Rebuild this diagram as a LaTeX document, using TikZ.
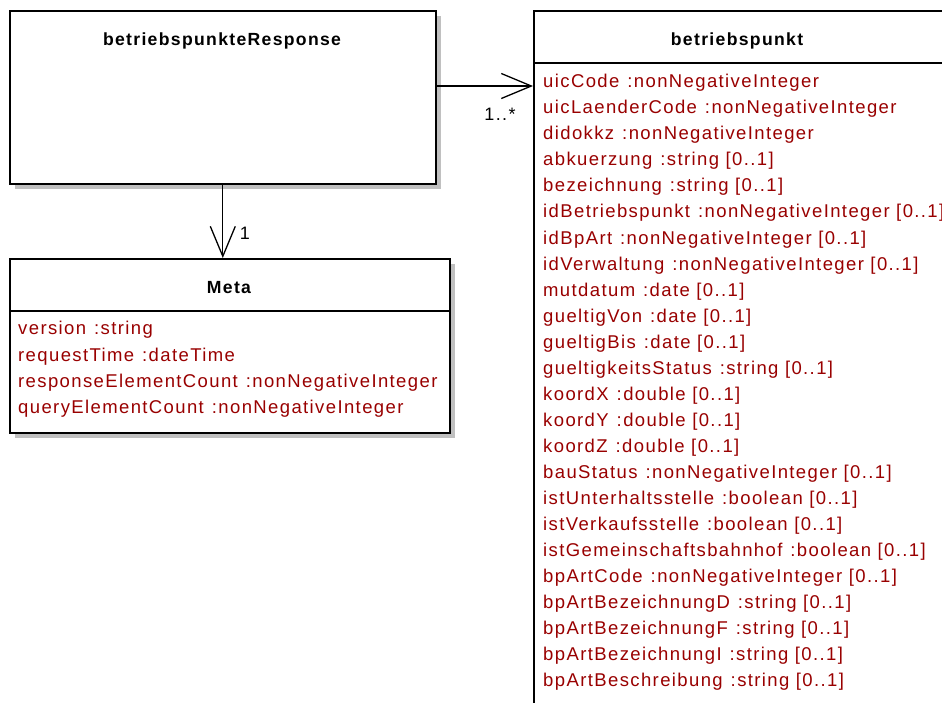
\documentclass[tikz,border=0pt]{standalone}
\usepackage{fontspec}
\setmainfont{Liberation Sans}
\newfontfamily\umlfont[LetterSpace=7.5]{Liberation Sans}
\usetikzlibrary{arrows.meta}
\definecolor{attrred}{RGB}{153,0,0}
\definecolor{shadowgray}{RGB}{192,192,192}
\tikzset{
  classbox/.style={draw, line width=1.6pt, fill=white, anchor=north west, inner sep=0pt},
  title/.style={font=\umlfont\fontsize{17.6}{20}\selectfont\bfseries},
  attr/.style={anchor=west, inner sep=0pt, text=attrred, font=\umlfont\fontsize{18.5}{20}\selectfont},
  assoc/.style={line width=1.3pt, -{Straight Barb[length=30pt,width=25pt,line width=1.3pt]}},
  mult/.style={font=\umlfont\fontsize{18}{20}\selectfont}
}
\newcommand{\attrsep}{\hspace{8pt}}
\begin{document}
\begin{tikzpicture}[x=1pt,y=-1pt]
  \useasboundingbox (0,0) rectangle (942,702);
  \clip (0,0) rectangle (942,702);
  % shadows
  \fill[shadowgray] (15,16) rectangle (441,189);
  \fill[shadowgray] (15,264) rectangle (455,438);
  \fill[shadowgray] (539,16) rectangle (960,720);
  % betriebspunkteResponse
  \node[classbox, minimum width=426pt, minimum height=173pt] (resp) at (9,10) {};
  \node[title] (resptitle) at (222,41) {betriebspunkteResponse};
  % Meta
  \node[classbox, minimum width=440pt, minimum height=174pt] (meta) at (9,258) {};
  \draw[line width=1.3pt] (meta.west |- 0,311) -- (meta.east |- 0,311);
  \node[title] (metatitle) at (229,288) {Meta};
  \foreach \n/\t [count=\i from 0] in {version/:string, requestTime/:dateTime,
      responseElementCount/:nonNegativeInteger, queryElementCount/:nonNegativeInteger}
    \node[attr] (metaattr\i) at (18,330+26.3*\i) {\n\attrsep\t};
  % betriebspunkt
  \node[classbox, minimum width=440pt, minimum height=720pt] (bp) at (533,10) {};
  \draw[line width=1.3pt] (bp.west |- 0,63) -- (bp.east |- 0,63);
  \node[title] (bptitle) at (737,41) {betriebspunkt};
  \foreach \n/\t [count=\i from 0] in {uicCode/:nonNegativeInteger,
      uicLaenderCode/:nonNegativeInteger, didokkz/:nonNegativeInteger,
      abkuerzung/:string [0..1], bezeichnung/:string [0..1],
      idBetriebspunkt/:nonNegativeInteger [0..1], idBpArt/:nonNegativeInteger [0..1],
      idVerwaltung/:nonNegativeInteger [0..1], mutdatum/:date [0..1],
      gueltigVon/:date [0..1], gueltigBis/:date [0..1],
      gueltigkeitsStatus/:string [0..1], koordX/:double [0..1],
      koordY/:double [0..1], koordZ/:double [0..1],
      bauStatus/:nonNegativeInteger [0..1], istUnterhaltsstelle/:boolean [0..1],
      istVerkaufsstelle/:boolean [0..1], istGemeinschaftsbahnhof/:boolean [0..1],
      bpArtCode/:nonNegativeInteger [0..1], bpArtBezeichnungD/:string [0..1],
      bpArtBezeichnungF/:string [0..1], bpArtBezeichnungI/:string [0..1],
      bpArtBeschreibung/:string [0..1]}
    \node[attr] (bpattr\i) at (543,83+26.04*\i) {\n\attrsep\t};
  % associations
  \coordinate (respout) at (resp.east |- 0,86);
  \draw[assoc] (respout) -- (bp.west |- respout);
  \node[mult] (multbp) at (500,114) {1..*};
  \draw[assoc] (resp.south) -- (resp.south |- meta.north);
  \node[mult] (multmeta) at (245,233) {1};
\end{tikzpicture}
\end{document}
